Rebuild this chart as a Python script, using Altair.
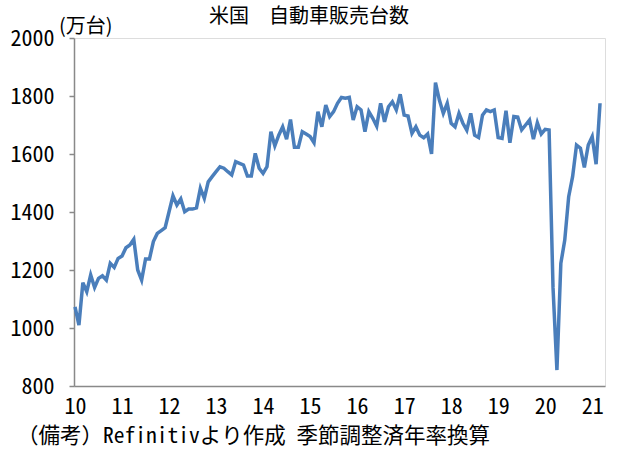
import altair as alt
import pandas as pd

FONT = "Noto Sans CJK JP"
MONO = "Noto Sans Mono CJK JP, Noto Sans CJK JP"

title_text = "米国　自動車販売台数"
unit_text = "(万台)"
note_text = "（備考）Refinitivより作成 季節調整済年率換算"

# Monthly US auto sales (SAAR, 10k units), Jan 2010 - Mar 2021
s2010 = [1073, 1010, 1156, 1125, 1183, 1140, 1171, 1180, 1165, 1223, 1209, 1240]
s2011 = [1248, 1277, 1286, 1306, 1200, 1165, 1238, 1238, 1298, 1326, 1336, 1346]
s2012 = [1401, 1456, 1424, 1445, 1401, 1410, 1410, 1414, 1482, 1447, 1504, 1522]
s2013 = [1539, 1556, 1551, 1539, 1528, 1574, 1568, 1562, 1524, 1524, 1602, 1551]
s2014 = [1533, 1556, 1677, 1628, 1665, 1694, 1651, 1719, 1623, 1623, 1677, 1669]
s2015 = [1660, 1639, 1746, 1694, 1769, 1729, 1746, 1775, 1795, 1792, 1795, 1717]
s2016 = [1763, 1752, 1677, 1746, 1723, 1696, 1775, 1711, 1763, 1780, 1752, 1806]
s2017 = [1734, 1731, 1671, 1694, 1665, 1656, 1669, 1600, 1846, 1786, 1740, 1775]
s2018 = [1706, 1694, 1740, 1706, 1682, 1740, 1665, 1657, 1734, 1752, 1746, 1752]
s2019 = [1657, 1654, 1749, 1639, 1729, 1727, 1683, 1700, 1717, 1651, 1708, 1669]
s2020 = [1685, 1683, 1140, 855, 1223, 1303, 1453, 1522, 1631, 1620, 1554, 1631]
s2021 = [1660, 1565, 1775]

sales = s2010 + s2011 + s2012 + s2013 + s2014 + s2015 + s2016 + s2017 + s2018 + s2019 + s2020 + s2021
year_ticks = [0, 12, 24, 36, 48, 60, 72, 84, 96, 108, 120, 132]
y_ticks = [800, 1000, 1200, 1400, 1600, 1800, 2000]

df = pd.DataFrame({"t": list(range(len(sales))), "v": sales})

line = alt.Chart(df).mark_line(color="#4A7EBB", strokeWidth=3.5).encode(
    x=alt.X(
        "t:Q",
        scale=alt.Scale(domain=[-0.26, 135.27], nice=False, zero=False),
        axis=alt.Axis(
            values=year_ticks,
            labelExpr="'' + (datum.value / 12 + 10)",
            title=None, grid=False, ticks=False, tickSize=0,
            domainColor="#898989", domainWidth=1.5,
            labelFont=MONO, labelFontSize=22, labelColor="black",
            labelPadding=10, labelFlush=False,
        ),
    ),
    y=alt.Y(
        "v:Q",
        scale=alt.Scale(domain=[800, 2000], nice=False, zero=False),
        axis=alt.Axis(
            values=y_ticks, format="d", title=None, grid=False,
            tickSize=5, tickColor="#898989", tickWidth=1.5,
            domainColor="#898989", domainWidth=1.5,
            labelFont=MONO, labelFontSize=22, labelColor="black",
            labelPadding=15, labelFlush=False,
        ),
    ),
)

title = alt.Chart(pd.DataFrame({"label": [title_text]})).mark_text(
    font=FONT, fontSize=20, color="black", align="center", baseline="middle"
).encode(x=alt.value(235), y=alt.value(-21), text="label:N")

unit = alt.Chart(pd.DataFrame({"label": [unit_text]})).mark_text(
    font=FONT, fontSize=20, color="black", align="left", baseline="middle"
).encode(x=alt.value(-15), y=alt.value(-11), text="label:N")

note = alt.Chart(pd.DataFrame({"label": [note_text]})).mark_text(
    font=MONO, fontSize=21.5, color="black", align="left", baseline="middle"
).encode(x=alt.value(-57), y=alt.value(399), text="label:N")

chart = alt.layer(line, title, unit, note).properties(
    width=531,
    height=348,
    padding={"left": 74, "top": 38, "right": 15, "bottom": 70},
    autosize=alt.AutoSizeParams(type="none"),
).configure_view(stroke="#333333", strokeWidth=1.5).configure(background="white")

chart.save("out.html", embed_options={"renderer": "svg", "actions": False})
